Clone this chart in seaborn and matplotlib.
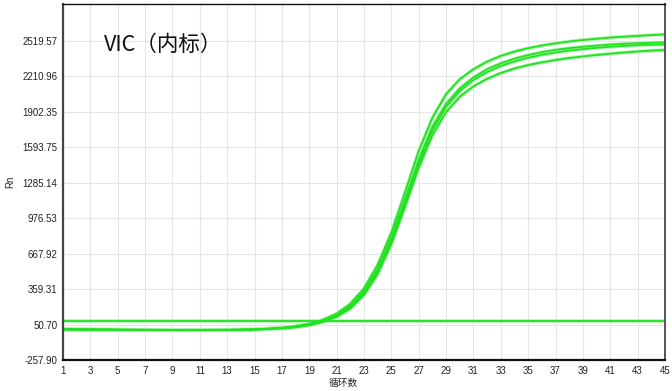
import numpy as np
import pandas as pd
import matplotlib
matplotlib.use("Agg")
import matplotlib.pyplot as plt
import seaborn as sns

cycles = list(range(1, 46))

well_a = [12, 11, 10, 9, 8, 7, 6, 5, 4, 4, 4, 5, 6, 8, 11, 16, 24, 37, 58, 92,
          145, 230, 365, 570, 850, 1200, 1560, 1850, 2055, 2185, 2272, 2338, 2388, 2425, 2455,
          2478, 2497, 2513, 2526, 2537, 2547, 2555, 2562, 2569, 2575]
well_b = [9, 8, 7, 6, 5, 4, 4, 3, 3, 2, 2, 3, 4, 6, 8, 13, 20, 32, 52, 84,
          133, 212, 340, 535, 805, 1140, 1485, 1770, 1970, 2105, 2200, 2272, 2323, 2363, 2395,
          2420, 2440, 2455, 2467, 2477, 2486, 2493, 2498, 2502, 2505]
well_c = [8, 7, 6, 5, 5, 4, 3, 3, 2, 2, 2, 2, 3, 5, 7, 12, 18, 29, 48, 78,
          125, 200, 322, 510, 775, 1105, 1450, 1738, 1945, 2082, 2178, 2248, 2300, 2340, 2372,
          2398, 2418, 2434, 2447, 2458, 2467, 2475, 2481, 2485, 2488]
well_d = [7, 6, 5, 5, 4, 3, 3, 2, 2, 1, 1, 2, 3, 4, 6, 10, 16, 26, 44, 72,
          117, 190, 308, 490, 750, 1075, 1415, 1698, 1900, 2032, 2123, 2189, 2239, 2278, 2308,
          2332, 2352, 2369, 2383, 2396, 2407, 2417, 2426, 2434, 2440]
threshold = [83] * 45

xtick_values = list(range(1, 46, 2))
ytick_labels = ["-257.90", "50.70", "359.31", "667.92", "976.53", "1285.14",
                "1593.75", "1902.35", "2210.96", "2519.57"]
ytick_values = [float(s) for s in ytick_labels]
y_top = 2835.0

rows = []
for name, vals in [("A", well_a), ("B", well_b), ("C", well_c), ("D", well_d), ("T", threshold)]:
    for c, v in zip(cycles, vals):
        rows.append({"cycle": c, "Rn": v, "well": name})
df = pd.DataFrame(rows)

sns.set_style("white")
plt.rcParams['font.family'] = ['Liberation Sans', 'Noto Sans CJK SC', 'DejaVu Sans']

W, H = 672, 391
L, R, T, B = 63, 665, 4.5, 360
fig = plt.figure(figsize=(6.72, 3.91), dpi=100)
ax = fig.add_axes([L / W, 1 - B / H, (R - L) / W, (B - T) / H])

pal_glow = {k: "#b0f5b0" for k in "ABCDT"}
pal_line = {k: "#22e022" for k in "ABCDT"}
sns.lineplot(data=df, x="cycle", y="Rn", hue="well", palette=pal_glow,
             linewidth=2.6, legend=False, ax=ax, estimator=None, sort=False)
sns.lineplot(data=df, x="cycle", y="Rn", hue="well", palette=pal_line,
             linewidth=1.3, legend=False, ax=ax, estimator=None, sort=False)

ax.set_xlim(1, 45)
ax.set_ylim(ytick_values[0], y_top)
ax.set_xticks(xtick_values)
ax.set_xticklabels([str(v) for v in xtick_values])
ax.set_yticks(ytick_values)
ax.set_yticklabels(ytick_labels)
ax.tick_params(axis='both', length=0, labelsize=7, colors="#222222")
ax.tick_params(axis='x', pad=4)
ax.tick_params(axis='y', pad=4)
ax.grid(True, color="#e6e6e6", linewidth=0.8)
ax.set_axisbelow(True)

for side, (col, lw) in {"left": ("#444444", 1.6), "bottom": ("#111111", 1.6),
                        "top": ("#111111", 1.0), "right": ("#555555", 1.4)}.items():
    ax.spines[side].set_visible(True)
    ax.spines[side].set_color(col)
    ax.spines[side].set_linewidth(lw)

ax.set_xlabel("循环数", fontsize=7, family=['Noto Sans CJK SC', 'DejaVu Sans'])
ax.set_ylabel("Rn", fontsize=7)
ax.xaxis.set_label_coords((343 - L) / (R - L), -(378 - B) / (B - T))
ax.yaxis.set_label_coords(-(L - 15) / (R - L), 0.5)

ax.text(0.068, 0.885, "VIC（内标）", transform=ax.transAxes, fontsize=15.5,
        family=['Noto Sans CJK SC', 'DejaVu Sans'], va="center", ha="left", color="#111111")

fig.savefig("out.png", dpi=100)
